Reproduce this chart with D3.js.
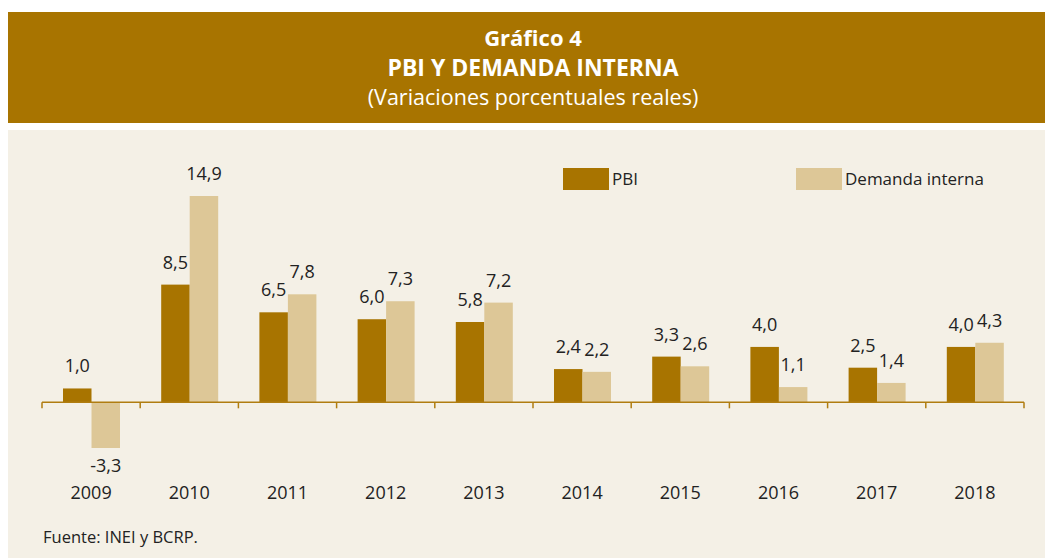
<!DOCTYPE html>
<html>
<head>
<meta charset="utf-8">
<style>
    body { margin: 0; background: #fff; }
    svg { display: block; font-family: "Open Sans", "Noto Sans", sans-serif; }
    .val { font-size: 18px; fill: #222; text-anchor: middle; }
    .year { font-size: 18px; fill: #222; text-anchor: middle; }
</style>
</head>
<body>
<svg width="1045" height="558"></svg>
<script src="https://d3js.org/d3.v7.min.js"></script>
<script>
    // data
    let years = ["2009", "2010", "2011", "2012", "2013", "2014", "2015", "2016", "2017", "2018"];
    let pbi = [1.0, 8.5, 6.5, 6.0, 5.8, 2.4, 3.3, 4.0, 2.5, 4.0];
    let demanda = [-3.3, 14.9, 7.8, 7.3, 7.2, 2.2, 2.6, 1.1, 1.4, 4.3];
    let seriesNames = ["PBI", "Demanda interna"];
    let colors = ["#a87400", "#ddc797"];

    let svg = d3.select("svg");
    let W = 1045;

    // header band
    svg.append("rect").attr("x", 8).attr("y", 12).attr("width", W - 8).attr("height", 111).attr("fill", "#a87400");
    svg.append("text").attr("x", 533).attr("y", 46).attr("text-anchor", "middle")
        .style("font-size", "22px").style("font-weight", "bold").attr("fill", "#fff").text("Gráfico 4");
    svg.append("text").attr("x", 533).attr("y", 76).attr("text-anchor", "middle")
        .style("font-size", "23px").style("font-weight", "bold").attr("fill", "#fff").text("PBI Y DEMANDA INTERNA");
    svg.append("text").attr("x", 533).attr("y", 105).attr("text-anchor", "middle")
        .style("font-size", "21.5px").attr("fill", "#fff").text("(Variaciones porcentuales reales)");

    // chart panel
    svg.append("rect").attr("x", 8).attr("y", 130).attr("width", W - 8).attr("height", 428).attr("fill", "#f4f0e6");

    let data = years.map((y, i) => ({ year: y, values: [pbi[i], demanda[i]] }));

    let x0 = d3.scaleBand().domain(years).range([42, 1024]).padding(0);
    let x1 = d3.scaleBand().domain([0, 1]).range([21, 78]).padding(0);
    let y = d3.scaleLinear().domain([-3.3, 14.9]).range([448, 196]);

    let fmt = v => d3.format(".1f")(v).replace(".", ",").replace("\u2212", "-");

    let groups = svg.append("g").selectAll("g")
        .data(data)
        .join("g")
        .attr("transform", d => `translate(${x0(d.year)},0)`);

    groups.selectAll("rect")
        .data(d => d.values.map((v, k) => ({ v: v, k: k })))
        .join("rect")
        .attr("x", d => x1(d.k))
        .attr("width", x1.bandwidth())
        .attr("y", d => y(Math.max(0, d.v)))
        .attr("height", d => Math.abs(y(d.v) - y(0)))
        .attr("fill", d => colors[d.k]);

    groups.selectAll("text.val")
        .data(d => d.values.map((v, k) => ({ v: v, k: k })))
        .join("text")
        .attr("class", "val")
        .attr("x", d => x1(d.k) + x1.bandwidth() / 2)
        .attr("y", d => d.v >= 0 ? y(d.v) - 16 : y(d.v) + 24)
        .text(d => fmt(d.v));

    // axis
    let axisY = y(0);
    svg.append("line").attr("x1", 42).attr("x2", 1024).attr("y1", axisY).attr("y2", axisY)
        .attr("stroke", "#b07d10").attr("stroke-width", 1.5);
    let tickPos = years.map(d => x0(d)).concat([x0.range()[1]]);
    svg.append("g").selectAll("line")
        .data(tickPos)
        .join("line")
        .attr("x1", d => d).attr("x2", d => d)
        .attr("y1", axisY).attr("y2", axisY + 6)
        .attr("stroke", "#b07d10").attr("stroke-width", 1.5);

    svg.append("g").selectAll("text")
        .data(years)
        .join("text")
        .attr("class", "year")
        .attr("x", d => x0(d) + x0.bandwidth() / 2)
        .attr("y", 499)
        .text(d => d);

    // legend
    let legendX = [563, 796];
    let legend = svg.append("g").selectAll("g")
        .data(seriesNames)
        .join("g")
        .attr("transform", (d, i) => `translate(${legendX[i]},168)`);
    legend.append("rect").attr("width", 46).attr("height", 22).attr("fill", (d, i) => colors[i]);
    legend.append("text").attr("x", 49).attr("y", 17).style("font-size", "17px").attr("fill", "#222").text(d => d);

    // source
    svg.append("text").attr("x", 43).attr("y", 543).style("font-size", "16.5px").attr("fill", "#222")
        .text("Fuente: INEI y BCRP.");
</script>
</body>
</html>
